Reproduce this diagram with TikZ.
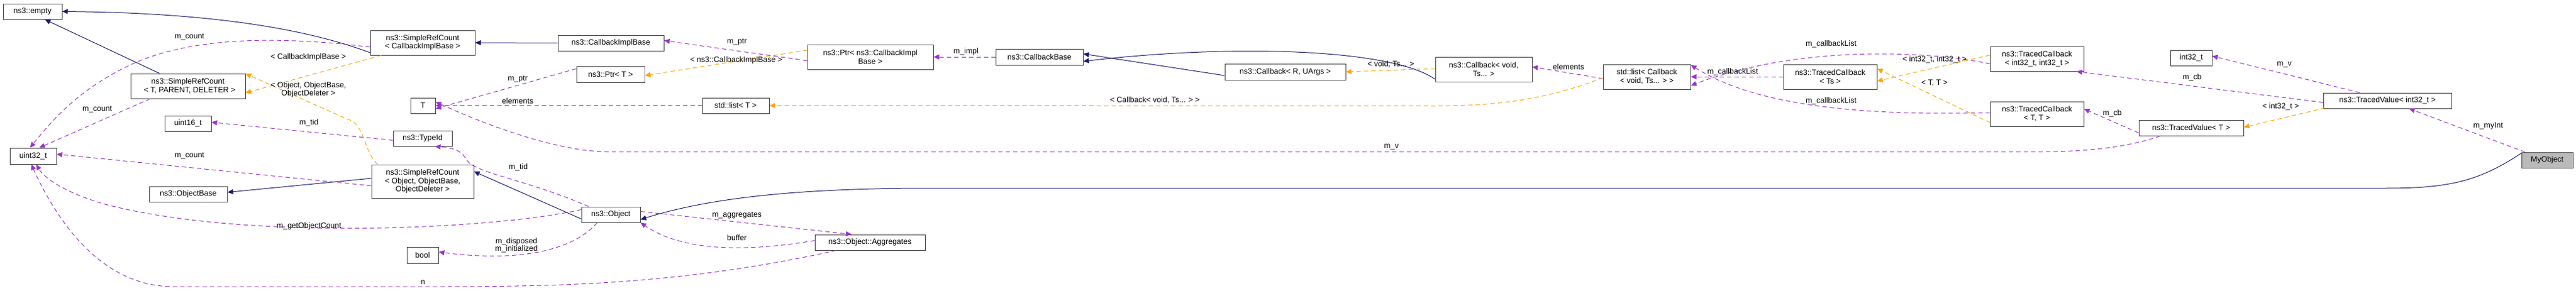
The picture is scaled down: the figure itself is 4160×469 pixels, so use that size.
\documentclass[tikz,border=0pt]{standalone}
\usepackage{fontspec}
\setmainfont{Liberation Sans}
\usetikzlibrary{arrows.meta}
\definecolor{inh}{HTML}{191970}
\definecolor{use}{HTML}{9A32CD}
\definecolor{tpl}{HTML}{FFA500}
\definecolor{boxline}{HTML}{404040}
\begin{document}
\begin{tikzpicture}[x=1pt,y=-1pt,
  font=\fontsize{12.5}{14.5}\selectfont,
  cls/.style={draw=boxline,line width=1pt,fill=white,inner sep=0pt,align=center},
  inhe/.style={draw=inh,line width=1pt,-{Triangle[length=9pt,width=8pt]}},
  uses/.style={draw=use,line width=1pt,dash pattern=on 7pt off 5pt,-{Triangle[length=9pt,width=8pt]}},
  tmpl/.style={draw=tpl,line width=1pt,dash pattern=on 7pt off 5pt,-{Triangle[length=9pt,width=8pt]}},
  lbl/.style={inner sep=0pt,align=center}]
\useasboundingbox (0,0) rectangle (4160,469);
\def\bx(#1,#2,#3,#4,#5){\node[cls,minimum width=#4pt,minimum height=#5pt] (#1) at (#2,#3)}
\bx(empty,52.5,18.5,95,25) {ns3::empty};
\bx(srcT,303.5,139,185,40) {ns3::SimpleRefCount\\[-1pt]\;\,< T, PARENT, DELETER >};
\bx(u32,53.5,252,75,26) {uint32\_t};
\bx(u16,303.5,199.5,75,25) {uint16\_t};
\bx(obase,304,313.5,126,25) {ns3::ObjectBase};
\bx(bool,682.5,412,51,26) {bool};
\bx(T,683,170.5,40,25) {T};
\bx(srcCIB,682.5,69,169,40) {ns3::SimpleRefCount\\[-1pt]< CallbackImplBase >};
\bx(typeid,682.5,223.5,95,25) {ns3::TypeId};
\bx(srcObj,682.5,293,165,54) {ns3::SimpleRefCount\\[-1pt]< Object, ObjectBase,\\[-1pt] ObjectDeleter >};
\bx(cib,986.5,69.5,171,25) {ns3::CallbackImplBase};
\bx(ptrCIB,1405.5,92,203,40) {ns3::Ptr< ns3::CallbackImpl\\[-1pt]Base >};
\bx(ptrT,986,120,110,26) {ns3::Ptr< T >};
\bx(listT,1188,170.5,108,25) {std::list< T >};
\bx(object,986.5,346.5,95,25) {ns3::Object};
\bx(aggr,1405,391.5,178,25) {ns3::Object::Aggregates};
\bx(cbase,1678.5,92,141,26) {ns3::CallbackBase};
\bx(cbR,2075.5,116,195,26) {ns3::Callback< R, UArgs >};
\bx(cbV,2396,112,156,40) {ns3::Callback< void,\\[-1pt]Ts... >};
\bx(listCb,2659.5,124,141,40) {std::list< Callback\\[-1pt]< void, Ts... > >};
\bx(tcII,3289.5,95,151,40) {ns3::TracedCallback\\[-1pt]< int32\_t, int32\_t >};
\bx(tcTs,2955.5,124,151,40) {ns3::TracedCallback\\[-1pt]< Ts >};
\bx(tcTT,3289.5,184,151,40) {ns3::TracedCallback\\[-1pt]< T, T >};
\bx(tvT,3538.5,206.5,169,25) {ns3::TracedValue< T >};
\bx(i32,3538.5,93.5,67,25) {int32\_t};
\bx(tvI,3855.5,162.5,207,25) {ns3::TracedValue< int32\_t >};
\node[cls,fill=black!27,minimum width=83pt,minimum height=25pt] (my) at (4113.5,258.5) {MyObject};

% inheritance
\draw[inhe] ([yshift=-16pt]srcCIB.west) .. controls (450,30) and (250,20) .. (empty.east);
\draw[inhe] ([xshift=-46pt]srcT.north) -- ([xshift=20pt]empty.south);
\draw[inhe] (cib.west) -- (srcCIB.east);
\draw[inhe] ([yshift=5pt]srcObj.west) -- ([yshift=3pt]obase.east);
\draw[inhe] ([yshift=-7pt]object.west) -- ([yshift=16pt]srcObj.east);
\draw[inhe] ([yshift=11pt]my.west) .. controls (4000,295) and (3950,304) .. (3850,304) -- (1500,304) .. controls (1300,304) and (1150,318) .. ([yshift=-8pt]object.east);
\draw[inhe] ([yshift=-16pt]cbV.west) .. controls (2250,80) and (2000,70) .. ([yshift=-7pt]cbase.east);
\draw[inhe] ([yshift=-6pt]cbR.west) -- ([yshift=5pt]cbase.east);

% usage
\draw[uses] ([yshift=-7pt]srcCIB.west) .. controls (450,58) and (300,58) .. (200,110) .. controls (120,150) and (80,200) .. ([xshift=-5pt]u32.north);
\draw[uses] ([xshift=-61pt]srcT.south) -- ([xshift=10pt]u32.north);
\draw[uses] ([yshift=-7pt]srcObj.west) -- ([yshift=3pt]u32.east);
\draw[uses] ([yshift=8pt]object.west) .. controls (800,370) and (400,390) .. (170,330) .. controls (100,310) and (70,285) .. ([xshift=5pt]u32.south);
\draw[uses] ([xshift=-55pt]aggr.south) .. controls (1100,460) and (900,463) .. (700,463) -- (280,463) .. controls (150,463) and (80,330) .. ([xshift=-3pt]u32.south);
\draw[uses] ([yshift=-6pt]ptrCIB.west) -- ([yshift=4pt]cib.east);
\draw[uses] ([yshift=9pt]ptrT.west) -- ([yshift=-5pt]T.east);
\draw[uses] (listT.west) -- (T.east);
\draw[uses] ([xshift=-50pt]tvT.south) .. controls (3460,230) and (3400,245) .. (3300,245) -- (980,245) .. controls (900,245) and (780,200) .. ([yshift=6pt]T.east);
\draw[uses] ([yshift=-3pt]typeid.west) -- ([yshift=2pt]u16.east);
\draw[uses] ([xshift=-36pt]object.north) .. controls (850,290) and (770,280) .. (755,260) .. controls (745,245) and (740,240) .. ([xshift=20pt]typeid.south);
\draw[uses] ([xshift=-22pt]object.south) .. controls (930,400) and (850,425) .. ([yshift=5pt]bool.east);
\draw[uses] ([yshift=5pt]object.east) -- ([xshift=-30pt]aggr.north);
\draw[uses] ([yshift=3pt]aggr.west) .. controls (1200,408) and (1100,405) .. ([xshift=0pt]object.south east);
\draw[uses] (cbase.west) -- ([yshift=0pt]ptrCIB.east);
\draw[uses] ([yshift=-3pt]listCb.west) -- ([yshift=4pt]cbV.east);
\draw[uses] ([yshift=-8pt]tcII.west) .. controls (3100,80) and (2900,75) .. ([yshift=-14pt]listCb.east);
\draw[uses] (tcTs.west) -- (listCb.east);
\draw[uses] ([yshift=2pt]tcTT.west) .. controls (3050,186) and (2850,180) .. ([yshift=19pt]listCb.east);
\draw[uses] ([yshift=-8pt]tvT.west) -- ([yshift=8pt]tcTT.east);
\draw[uses] ([yshift=-3pt]tvI.west) -- ([xshift=-12pt]tcII.south east);
\draw[uses] ([xshift=-45pt]tvI.north) -- ([yshift=3pt]i32.east);
\draw[uses] ([xshift=-36pt]my.north) -- ([xshift=35pt]tvI.south);

% template
\draw[tmpl] ([xshift=-67pt]srcCIB.south) -- ([yshift=-11pt]srcT.east);
\draw[tmpl] ([xshift=-73pt]srcObj.north) .. controls (585,240) and (590,200) .. (560,192) -- ([yshift=20pt]srcT.east);
\draw[tmpl] ([yshift=11pt]ptrCIB.west) -- ([yshift=-2pt]ptrT.east);
\draw[tmpl] ([yshift=19pt]listCb.south west) .. controls (2500,160) and (2420,171) .. (2320,171) -- (listT.east);
\draw[tmpl] ([yshift=1pt]cbV.west) -- (cbR.east);
\draw[tmpl] ([yshift=6pt]tcII.west) -- ([yshift=-7pt]tcTs.east);
\draw[tmpl] ([yshift=-14pt]tcTT.west) -- ([yshift=13pt]tcTs.east);
\draw[tmpl] ([xshift=3pt,yshift=1pt]tvI.south west) -- ([yshift=-12pt]tvT.north east);

% labels
\node[lbl] (l1) at (306,60) {m\_count};
\node[lbl] (l2) at (498,92) {< CallbackImplBase >};
\node[lbl] (l3) at (498,145) {< Object, ObjectBase,\\[-1pt]ObjectDeleter >};
\node[lbl] (l4) at (157,177) {m\_count};
\node[lbl] (l5) at (499,198) {m\_tid};
\node[lbl] (l6) at (306,252) {m\_count};
\node[lbl] (l7) at (499,365) {m\_getObjectCount};
\node[lbl] (l8) at (683,456) {n};
\node[lbl] (l9) at (1190,68) {m\_ptr};
\node[lbl] (l10) at (1189,97) {< ns3::CallbackImplBase >};
\node[lbl] (l11) at (836,128) {m\_ptr};
\node[lbl] (l12) at (836,163) {elements};
\node[lbl] (l13) at (837,270) {m\_tid};
\node[lbl] (l14) at (1190,348) {m\_aggregates};
\node[lbl] (l15) at (1190,384) {buffer};
\node[lbl] (l16) at (834,396) {m\_disposed\\[-2pt]m\_initialized};
\node[lbl] (l17) at (1560,83) {m\_impl};
\node[lbl] (l18) at (1865,162) {< Callback< void, Ts... > >};
\node[lbl] (l19) at (2246,104) {< void, Ts... >};
\node[lbl] (l20) at (2533,108) {elements};
\node[lbl] (l21) at (2247,237) {m\_v};
\node[lbl] (l22) at (2957,71) {m\_callbackList};
\node[lbl] (l23) at (2798,116) {m\_callbackList};
\node[lbl] (l24) at (3124,96) {< int32\_t, int32\_t >};
\node[lbl] (l25) at (3124,134) {< T, T >};
\node[lbl] (l26) at (2957,163) {m\_callbackList};
\node[lbl] (l27) at (3411,183) {m\_cb};
\node[lbl] (l28) at (3689,104) {m\_v};
\node[lbl] (l29) at (3540,125) {m\_cb};
\node[lbl] (l30) at (3683,172) {< int32\_t >};
\node[lbl] (l31) at (4018,203) {m\_myInt};
\end{tikzpicture}
\end{document}
